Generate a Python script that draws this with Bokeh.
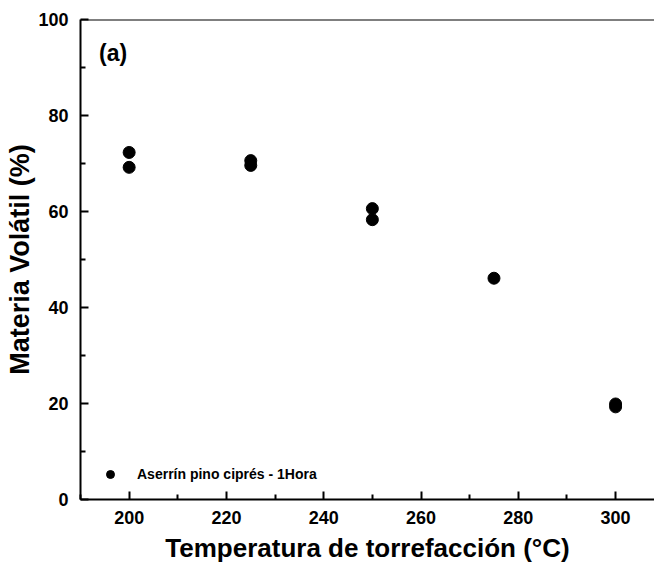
from bokeh.plotting import figure
from bokeh.models import FixedTicker, Span, Label, Legend, LegendItem, ColumnDataSource, Range1d
from bokeh.embed import file_html
from bokeh.resources import INLINE

temperatura = [200, 200, 225, 225, 250, 250, 275, 300, 300]
materia_volatil = [72.3, 69.2, 70.6, 69.6, 60.6, 58.3, 46.1, 19.9, 19.3]
x_ticks = [200, 220, 240, 260, 280, 300]
x_minor = [190, 210, 230, 250, 270, 290, 310]
y_ticks = [0, 20, 40, 60, 80, 100]
y_minor = [10, 30, 50, 70, 90]
serie = "Aserrín pino ciprés - 1Hora"
titulo_x = "Temperatura de torrefacción (°C)"
titulo_y = "Materia Volátil (%)"

FONT = "Liberation Sans"

p = figure(width=654, height=572, output_backend="svg", toolbar_location=None,
           x_range=Range1d(190, 308.0), y_range=Range1d(0, 100),
           min_border_left=80, min_border_right=0, min_border_top=19, min_border_bottom=73)
p.grid.visible = False
p.outline_line_color = None
p.background_fill_color = "white"
p.border_fill_color = "white"

src = ColumnDataSource(dict(x=temperatura, y=materia_volatil))
r = p.scatter("x", "y", source=src, size=12, color="black")

for ax in (p.xaxis[0], p.yaxis[0]):
    ax.axis_line_width = 2
    ax.axis_line_color = "black"
    ax.major_tick_in = 8
    ax.major_tick_out = 0
    ax.minor_tick_in = 5
    ax.minor_tick_out = 0
    ax.major_tick_line_width = 2
    ax.minor_tick_line_width = 2
    ax.major_label_text_font = FONT
    ax.major_label_text_font_style = "bold"
    ax.major_label_text_font_size = "18px"
    ax.major_label_text_color = "black"
    ax.axis_label_text_font = FONT
    ax.axis_label_text_font_style = "bold"
    ax.axis_label_text_font_size = "26px"
    ax.axis_label_text_color = "black"

p.xaxis[0].ticker = FixedTicker(ticks=x_ticks, minor_ticks=x_minor)
p.yaxis[0].ticker = FixedTicker(ticks=y_ticks, minor_ticks=y_minor)
p.xaxis[0].axis_label = titulo_x
p.yaxis[0].axis_label = titulo_y
p.yaxis[0].axis_label_text_font_size = "27px"
p.xaxis[0].major_label_standoff = 11
p.yaxis[0].major_label_standoff = 12
p.xaxis[0].axis_label_standoff = 6
p.yaxis[0].axis_label_standoff = 0

top = Span(location=100, dimension="width", line_color="black", line_width=2)
p.add_layout(top)

p.add_layout(Label(x=193.8, y=93.0, text="(a)", text_font=FONT, text_font_style="bold",
                   text_font_size="23px", text_baseline="middle", text_color="black"))

legend = Legend(items=[LegendItem(label=serie, renderers=[r])], location=(20, 15),
                border_line_color=None, background_fill_alpha=0, padding=0, margin=0,
                glyph_width=20, glyph_height=20, label_standoff=17,
                label_text_font=FONT, label_text_font_style="bold", label_text_font_size="14px",
                label_text_color="black")
p.add_layout(legend)

open("out.html", "w").write(file_html(p, INLINE))
